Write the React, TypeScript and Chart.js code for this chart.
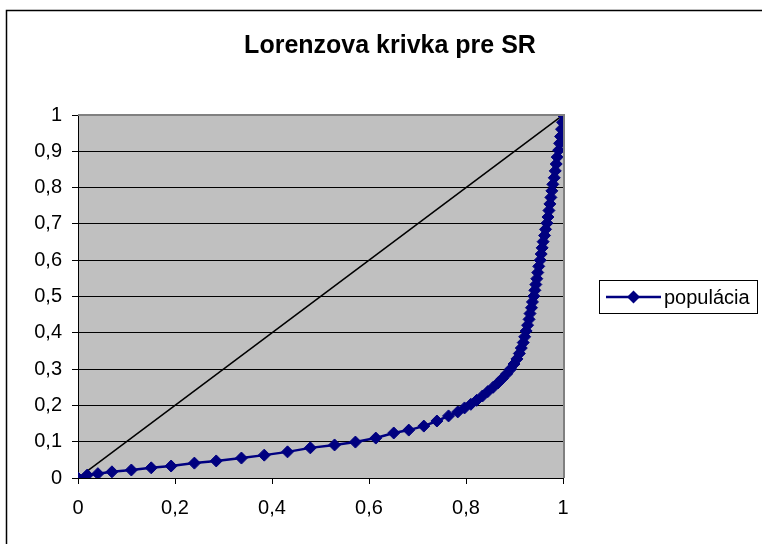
import React, { useEffect, useRef } from "react";
import { Chart, registerables } from "chart.js";

Chart.register(...registerables);

const TITLE = "Lorenzova krivka pre SR";
const SERIES_LABEL = "populácia";

// cumulative share of population (x) and of income (y)
const popShare = [
  0, 0.019, 0.041, 0.07, 0.11, 0.151, 0.192, 0.24, 0.285, 0.337, 0.384,
  0.432, 0.479, 0.529, 0.572, 0.614, 0.651, 0.682, 0.713, 0.74, 0.764, 0.783,
  0.797, 0.81, 0.822, 0.834, 0.845, 0.856, 0.866, 0.875, 0.884, 0.892, 0.899,
  0.905, 0.91, 0.914, 0.918, 0.921, 0.924, 0.927, 0.93, 0.932, 0.935, 0.937,
  0.94, 0.942, 0.944, 0.946, 0.948, 0.95, 0.953, 0.955, 0.957, 0.959, 0.962,
  0.964, 0.967, 0.969, 0.971, 0.973, 0.975, 0.977, 0.979, 0.982, 0.984, 0.986,
  0.988, 0.991, 0.993, 0.995, 0.997, 0.999, 1.0,
];
const incomeShare = [
  0, 0.008, 0.012, 0.017, 0.022, 0.028, 0.033, 0.041, 0.047, 0.055, 0.063,
  0.072, 0.083, 0.091, 0.099, 0.11, 0.124, 0.132, 0.143, 0.157, 0.171, 0.182,
  0.193, 0.203, 0.214, 0.226, 0.238, 0.25, 0.262, 0.274, 0.287, 0.3, 0.314,
  0.328, 0.343, 0.358, 0.373, 0.389, 0.405, 0.421, 0.437, 0.453, 0.469, 0.485,
  0.501, 0.517, 0.533, 0.549, 0.566, 0.583, 0.6, 0.617, 0.634, 0.651, 0.668,
  0.685, 0.702, 0.719, 0.737, 0.755, 0.773, 0.791, 0.809, 0.827, 0.846, 0.865,
  0.884, 0.903, 0.922, 0.941, 0.961, 0.98, 1.0,
];
const equalityX = [0, 1];
const equalityY = [0, 1];

const xTicks = [0, 0.2, 0.4, 0.6, 0.8, 1];
const yTicks = [0, 0.1, 0.2, 0.3, 0.4, 0.5, 0.6, 0.7, 0.8, 0.9, 1];

const NAVY = "#000080";
const FONT = "'Liberation Sans', Arial, sans-serif";

const fmt = (v: number) => String(Math.round(v * 10) / 10).replace(".", ",");

const framePlugin = {
  id: "framePlugin",
  beforeDraw(chart: any) {
    const { ctx, chartArea } = chart;
    ctx.save();
    ctx.fillStyle = "#ffffff";
    ctx.fillRect(0, 0, chart.width, chart.height);
    // outer chart frame (left and top visible)
    ctx.strokeStyle = "#000000";
    ctx.lineWidth = 1.5;
    ctx.beginPath();
    ctx.moveTo(6.5, chart.height + 5);
    ctx.lineTo(6.5, 10.5);
    ctx.lineTo(chart.width + 5, 10.5);
    ctx.stroke();
    // plot area
    ctx.fillStyle = "#C0C0C0";
    ctx.fillRect(chartArea.left, chartArea.top, chartArea.right - chartArea.left, chartArea.bottom - chartArea.top);
    // title
    ctx.fillStyle = "#000000";
    ctx.font = `bold 25px ${FONT}`;
    ctx.textAlign = "center";
    ctx.textBaseline = "middle";
    ctx.fillText(TITLE, 390, 46);
    ctx.restore();
  },
  afterDatasetsDraw(chart: any) {
    const { ctx, chartArea } = chart;
    ctx.save();
    ctx.strokeStyle = "#808080";
    ctx.lineWidth = 2;
    ctx.beginPath();
    ctx.moveTo(chartArea.left, chartArea.top);
    ctx.lineTo(chartArea.right + 1, chartArea.top);
    ctx.lineTo(chartArea.right + 1, chartArea.bottom);
    ctx.stroke();
    ctx.restore();
  },
  afterDraw(chart: any) {
    const { ctx } = chart;
    ctx.save();
    // legend box
    const bx = 599.5, by = 280.5, bw = 158, bh = 33;
    ctx.fillStyle = "#ffffff";
    ctx.fillRect(bx, by, bw, bh);
    ctx.strokeStyle = "#000000";
    ctx.lineWidth = 1;
    ctx.strokeRect(bx, by, bw, bh);
    const cy = by + bh / 2;
    ctx.strokeStyle = NAVY;
    ctx.lineWidth = 2.5;
    ctx.beginPath();
    ctx.moveTo(606, cy);
    ctx.lineTo(661, cy);
    ctx.stroke();
    ctx.fillStyle = NAVY;
    ctx.beginPath();
    ctx.moveTo(633.5 - 6.5, cy);
    ctx.lineTo(633.5, cy - 6.5);
    ctx.lineTo(633.5 + 6.5, cy);
    ctx.lineTo(633.5, cy + 6.5);
    ctx.closePath();
    ctx.fill();
    ctx.fillStyle = "#000000";
    ctx.font = `20px ${FONT}`;
    ctx.textBaseline = "middle";
    ctx.textAlign = "left";
    ctx.fillText(SERIES_LABEL, 664, cy + 1);
    ctx.restore();
  },
};

export default function App() {
  const ref = useRef<HTMLCanvasElement | null>(null);
  useEffect(() => {
    if (!ref.current) return;
    const chart = new Chart(ref.current, {
      type: "scatter",
      data: {
        datasets: [
          {
            label: SERIES_LABEL,
            data: popShare.map((x, i) => ({ x, y: incomeShare[i] })),
            showLine: true,
            borderColor: NAVY,
            backgroundColor: NAVY,
            borderWidth: 2.5,
            pointStyle: "rectRot",
            pointRadius: 6,
            pointBorderWidth: 1,
            pointBorderColor: NAVY,
            pointBackgroundColor: NAVY,
            order: 0,
          },
          {
            label: "equality",
            data: equalityX.map((x, i) => ({ x, y: equalityY[i] })),
            showLine: true,
            borderColor: "#000000",
            borderWidth: 1.5,
            pointRadius: 0,
            order: 1,
          },
        ],
      },
      options: {
        responsive: false,
        animation: false,
        events: [],
        layout: { padding: { left: 0, right: 199, top: 115, bottom: 0 } },
        plugins: {
          legend: { display: false },
          tooltip: { enabled: false },
          title: { display: false },
        },
        scales: {
          x: {
            type: "linear",
            min: 0,
            max: 1,
            afterBuildTicks: (s: any) => {
              s.ticks = xTicks.map((v) => ({ value: v }));
            },
            afterFit: (s: any) => {
              s.height = 66;
            },
            ticks: {
              color: "#000000",
              font: { family: FONT, size: 20 },
              padding: 12,
              maxRotation: 0,
              callback: (v: any) => fmt(Number(v)),
            },
            grid: {
              drawOnChartArea: false,
              drawTicks: true,
              tickLength: 6,
              color: "#000000",
            },
            border: { color: "#000000", width: 1 },
          },
          y: {
            type: "linear",
            min: 0,
            max: 1,
            afterBuildTicks: (s: any) => {
              s.ticks = yTicks.map((v) => ({ value: v }));
            },
            afterFit: (s: any) => {
              s.width = 78;
            },
            ticks: {
              color: "#000000",
              font: { family: FONT, size: 20 },
              padding: 10,
              callback: (v: any) => fmt(Number(v)),
            },
            grid: {
              color: "#000000",
              lineWidth: 1,
              drawTicks: true,
              tickLength: 6,
            },
            border: { color: "#000000", width: 1 },
          },
        },
      },
      plugins: [framePlugin],
    } as any);
    return () => chart.destroy();
  }, []);
  return (
    <div style={{ position: "fixed", left: 0, top: 0, width: 762, height: 544, background: "#fff" }}>
      <canvas ref={ref} width={762} height={544} style={{ display: "block", width: 762, height: 544 }} />
    </div>
  );
}
